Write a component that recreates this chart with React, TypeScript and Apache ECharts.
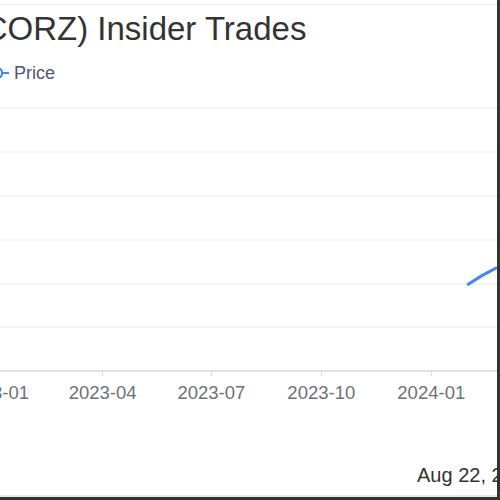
import React, { useEffect, useRef } from 'react';
import * as echarts from 'echarts';

// Price series (daily closes)
const priceDates = ['2024-01-31', '2024-02-12', '2024-02-25'];
const priceValues = [3.92, 4.34, 4.72];

// Quarterly tick labels on the date axis
const tickDates = ['2023-01-01', '2023-04-01', '2023-07-01', '2023-10-01', '2024-01-01'];

const titleText = 'Core Scientific (CORZ) Insider Trades';
const legendNames = ['Price'];
const asOfText = 'Aug 22, 2024';

const FONT = '"Liberation Sans", Arial, sans-serif';

const ts = (d: string) => new Date(d + 'T00:00:00').getTime();

function fmtMonth(v: number) {
  const d = new Date(v);
  return `${d.getFullYear()}-${String(d.getMonth() + 1).padStart(2, '0')}`;
}

export default function App() {
  const chartRef = useRef<HTMLDivElement>(null);

  useEffect(() => {
    if (!chartRef.current) return;
    const chart = echarts.init(chartRef.current, undefined, { renderer: 'svg' });

    const tickValues = tickDates.map(ts);

    const option: echarts.EChartsOption = {
      animation: false,
      textStyle: { fontFamily: FONT },
      title: {
        text: titleText,
        right: 190,
        top: 12,
        padding: 0,
        textStyle: { fontSize: 33, fontWeight: 'normal', color: '#333', fontFamily: FONT }
      },
      legend: {
        data: legendNames,
        left: 183,
        top: 64,
        padding: 0,
        itemWidth: 25,
        itemHeight: 14,
        textStyle: { fontSize: 18, color: '#4f5578', fontFamily: FONT }
      },
      grid: {
        left: 158,
        right: 0,
        top: 108,
        bottom: 126
      },
      xAxis: {
        type: 'value',
        min: ts('2022-12-01'),
        max: ts('2024-02-25'),
        axisLine: { lineStyle: { color: '#d9dce6', width: 1.5 } },
        axisTick: { show: true, length: 5, lineStyle: { color: '#d9dce6' }, customValues: tickValues },
        axisLabel: {
          customValues: tickValues,
          formatter: (v: number) => fmtMonth(v),
          fontSize: 18.5,
          color: '#6e7079',
          margin: 12,
          fontFamily: FONT
        },
        splitLine: { show: false }
      },
      yAxis: {
        type: 'value',
        min: 0,
        max: 12,
        interval: 2,
        axisLabel: { show: false },
        splitLine: { lineStyle: { color: '#eef0f4', width: 1.5 } }
      },
      series: [
        {
          name: 'Price',
          type: 'line',
          data: priceDates.map((d, i) => [ts(d), priceValues[i]]),
          showSymbol: false,
          lineStyle: { color: '#4285f4', width: 3 },
          itemStyle: { color: '#4285f4' }
        }
      ],
      graphic: [
        {
          type: 'text',
          left: 617,
          top: 465,
          style: { text: asOfText, fontSize: 20, fill: '#333', fontFamily: FONT }
        }
      ]
    };

    chart.setOption(option);
    return () => chart.dispose();
  }, []);

  return (
    <div style={{ position: 'fixed', left: 0, top: 0, width: 500, height: 500, background: '#333', overflow: 'hidden' }}>
      <div style={{ position: 'absolute', left: 0, top: 0, width: 497, height: 497, background: '#fff', overflow: 'hidden' }}>
        <div ref={chartRef} style={{ position: 'absolute', left: -200, top: 0, width: 697, height: 497 }} />
        <div style={{ position: 'absolute', left: 0, top: 4, width: 497, height: 1, background: '#e6e7ee' }} />
        <div style={{ position: 'absolute', left: 0, top: 495, width: 497, height: 2, background: '#e6e7ee' }} />
      </div>
    </div>
  );
}
